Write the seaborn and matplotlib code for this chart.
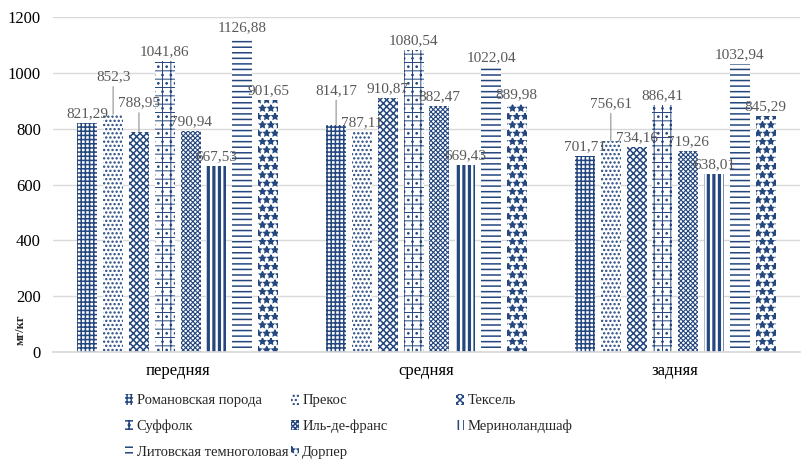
import numpy as np
import pandas as pd
import seaborn as sns
import matplotlib.pyplot as plt
from matplotlib.patches import Patch

# Carcass parts and breeds
parts = ["передняя", "средняя", "задняя"]
breeds = ["Романовская порода", "Прекос", "Тексель", "Суффолк", "Иль-де-франс",
          "Мериноландшаф", "Литовская темноголовая", "Дорпер"]

# Values, мг/кг (one list per breed, ordered by part)
romanov = [821.29, 814.17, 701.71]
prekos = [852.3, 787.11, 756.61]
texel = [788.95, 910.87, 734.16]
suffolk = [1041.86, 1080.54, 886.41]
ile_de_france = [790.94, 882.47, 719.26]
merinoland = [667.53, 669.43, 638.01]
lithuanian = [1126.88, 1022.04, 1032.94]
dorper = [901.65, 889.98, 845.29]

series = [romanov, prekos, texel, suffolk, ile_de_france, merinoland, lithuanian, dorper]

df = pd.DataFrame(
    [(p, b, vals[i]) for b, vals in zip(breeds, series) for i, p in enumerate(parts)],
    columns=["part", "breed", "value"],
)

BLUE = "#24477f"
hatches = ["++++", "....", "xxxxx", "++..", "xxxxxxx", "|||", "---", "**"]
hatch_lw = [1.1, 1.1, 1.1, 0.7, 0.8, 2.3, 1.1, 1.1]
# extra lift (points) for labels that sit above neighbouring bars, with a leader line
lift = {(0, 1): 20, (0, 2): 14, (1, 0): 18, (2, 1): 20}

sns.set_theme(style="white")
plt.rcParams["font.family"] = ["Liberation Serif", "DejaVu Serif"]
plt.rcParams["hatch.linewidth"] = 1.1

fig = plt.figure(figsize=(8.07, 4.59), dpi=100)
ax = fig.add_axes([0.066, 0.233, 0.925, 0.73])

sns.barplot(data=df, x="part", y="value", hue="breed", hue_order=breeds,
            order=parts, width=0.83, gap=0.23, ax=ax, legend=False,
            palette=["white"] * len(breeds), errorbar=None)


def style_patch(p, i):
    p.set_facecolor("white")
    p.set_edgecolor(BLUE)
    p.set_linewidth(0)
    p.set_hatch(hatches[i])
    if hasattr(p, "set_hatch_linewidth"):
        p.set_hatch_linewidth(hatch_lw[i])


for ci, cont in enumerate(ax.containers):
    for pi, bar in enumerate(cont.patches):
        style_patch(bar, ci)
        val = series[ci][pi]
        txt = f"{val:g}".replace(".", ",")
        extra = lift.get((pi, ci), 0)
        cx = bar.get_x() + bar.get_width() / 2
        kw = {}
        if extra:
            kw["arrowprops"] = dict(arrowstyle="-", color="#a6a6a6", lw=1,
                                    shrinkA=0, shrinkB=0)
        ax.annotate(txt, xy=(cx, val), xytext=(0, 2 + extra),
                    textcoords="offset points", ha="center", va="bottom",
                    fontsize=11, color="#595959", **kw)

ax.set_ylim(0, 1200)
ax.set_yticks(np.arange(0, 1201, 200))
ax.yaxis.grid(True, color="#d9d9d9", linewidth=1)
ax.set_axisbelow(True)
for s in ["top", "right", "left"]:
    ax.spines[s].set_visible(False)
ax.spines["bottom"].set_color("#d9d9d9")
ax.tick_params(axis="both", length=0, labelsize=12, colors="black")
ax.tick_params(axis="y", pad=9)
ax.tick_params(axis="x", pad=8)
ax.set_xlabel("")
ax.set_ylabel("")
ax.text(-0.043, 0.02, "мг/кг", transform=ax.transAxes, rotation=90,
        ha="center", va="bottom", fontsize=9, fontweight="bold")

handles = []
for i in range(len(breeds)):
    h = Patch()
    style_patch(h, i)
    handles.append(h)

columns = [[0, 3, 6], [1, 4, 7], [2, 5]]
col_x = [0.155, 0.36, 0.565]
for idx, x in zip(columns, col_x):
    fig.legend([handles[i] for i in idx], [breeds[i] for i in idx],
               loc="upper left", bbox_to_anchor=(x, 0.142), frameon=False,
               fontsize=10.5, handlelength=0.55, handleheight=0.75,
               handletextpad=0.25, labelspacing=0.85, borderpad=0,
               borderaxespad=0)

fig.savefig("out.png", dpi=100)
